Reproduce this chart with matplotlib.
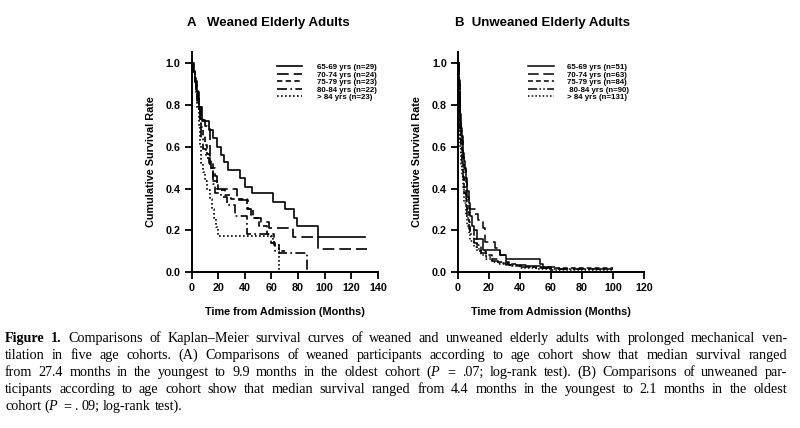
import matplotlib
matplotlib.use("Agg")
import matplotlib.pyplot as plt

plt.rcParams['font.family'] = ['Liberation Sans', 'DejaVu Sans']
plt.rcParams['mathtext.fontset'] = 'custom'
plt.rcParams['mathtext.rm'] = 'Liberation Serif'
plt.rcParams['mathtext.it'] = 'Liberation Serif:italic'

# ---------------- data ----------------
cohorts_A = ["65-69 yrs (n=29)", "70-74 yrs (n=24)", "75-79 yrs (n=23)",
             "80-84 yrs (n=22)", "> 84 yrs (n=23)"]
cohorts_B = ["65-69 yrs (n=51)", "70-74 yrs (n=63)", "75-79 yrs (n=84)",
             " 80-84 yrs (n=90)", "> 84 yrs (n=131)"]

# Panel A: weaned (time in months, survival)
tA1 = [0, 1.5, 2.5, 3.5, 4.5, 5.5, 7.6, 13.1, 16.4, 19.4, 21.9, 24.4, 27.7, 36.4, 40.2, 45.2, 61.4, 70.2, 77.0, 79.0, 95.2, 130]
sA1 = [1.0, 0.966, 0.931, 0.897, 0.862, 0.793, 0.724, 0.681, 0.641, 0.601, 0.561, 0.529, 0.489, 0.449, 0.409, 0.377, 0.337, 0.300, 0.257, 0.220, 0.166, 0.166]
tA2 = [0, 2, 3, 4, 5, 6, 7, 8.5, 10, 14, 15, 17.6, 19.5, 34, 42.5, 45, 52, 58, 76, 95.2, 132]
sA2 = [1.0, 0.958, 0.917, 0.875, 0.833, 0.792, 0.75, 0.73, 0.70, 0.55, 0.50, 0.46, 0.40, 0.345, 0.30, 0.26, 0.24, 0.21, 0.166, 0.11, 0.11]
tA3 = [0, 1.5, 2.5, 3.5, 4.5, 5.5, 6.5, 7.5, 8.5, 10, 11.5, 13, 16, 20, 25, 30, 42, 46, 51, 57, 62, 66, 70]
sA3 = [1.0, 0.957, 0.913, 0.87, 0.826, 0.783, 0.739, 0.696, 0.652, 0.609, 0.565, 0.522, 0.435, 0.391, 0.37, 0.348, 0.30, 0.26, 0.22, 0.18, 0.13, 0.10, 0.10]
tA4 = [0, 1.5, 2.5, 3.5, 4.5, 5.5, 6.5, 7.5, 9, 11, 14, 16, 18, 22, 27, 32.7, 42, 60, 63, 66, 86.5]
sA4 = [1.0, 0.955, 0.909, 0.864, 0.818, 0.773, 0.727, 0.636, 0.59, 0.545, 0.50, 0.42, 0.38, 0.36, 0.32, 0.27, 0.18, 0.14, 0.10, 0.09, 0.0]
tA5 = [0, 1.5, 2.5, 3.5, 4.5, 5.5, 6.5, 7.5, 8.5, 10, 12, 14, 15.5, 17, 18.5, 20, 61, 66]
sA5 = [1.0, 0.957, 0.913, 0.87, 0.783, 0.696, 0.609, 0.522, 0.478, 0.435, 0.391, 0.348, 0.304, 0.261, 0.217, 0.174, 0.13, 0.0]

# Panel B: unweaned
tB1 = [0, 0.5, 1, 1.5, 2, 2.5, 3, 3.5, 4, 4.4, 5, 6, 7, 8, 9, 10, 12, 16, 27, 31, 53, 55, 60]
sB1 = [1.0, 0.92, 0.84, 0.76, 0.69, 0.63, 0.59, 0.55, 0.53, 0.49, 0.45, 0.39, 0.33, 0.27, 0.22, 0.20, 0.16, 0.105, 0.08, 0.06, 0.04, 0.02, 0.0]
tB2 = [0, 0.5, 1, 1.5, 2, 3, 4, 5, 6, 7, 11, 13, 16.3, 17.5, 23.8, 27, 31, 33, 45, 55, 65, 100]
sB2 = [1.0, 0.90, 0.80, 0.72, 0.65, 0.57, 0.50, 0.43, 0.36, 0.30, 0.28, 0.25, 0.21, 0.145, 0.113, 0.08, 0.05, 0.035, 0.03, 0.022, 0.016, 0.016]
tB3 = [0, 0.5, 1, 1.5, 2, 2.5, 3, 4, 5, 6, 7, 8, 10, 12, 15, 18, 22, 26, 30, 38, 48, 60, 100]
sB3 = [1.0, 0.88, 0.77, 0.67, 0.60, 0.54, 0.48, 0.41, 0.35, 0.29, 0.24, 0.20, 0.16, 0.13, 0.10, 0.08, 0.06, 0.05, 0.04, 0.03, 0.022, 0.02, 0.02]
tB4 = [0, 0.5, 1, 1.5, 2, 2.5, 3, 4, 5, 6, 7, 8, 10, 12, 15, 18, 22, 26, 32, 40, 50, 60, 95]
sB4 = [1.0, 0.87, 0.75, 0.64, 0.56, 0.50, 0.45, 0.38, 0.32, 0.26, 0.21, 0.18, 0.14, 0.11, 0.09, 0.07, 0.055, 0.045, 0.035, 0.025, 0.018, 0.012, 0.012]
tB5 = [0, 0.5, 1, 1.5, 2, 2.5, 3, 4, 5, 6, 7, 8, 10, 12, 15, 18, 22, 26, 30, 35, 40, 50, 60, 100]
sB5 = [1.0, 0.85, 0.72, 0.60, 0.52, 0.46, 0.40, 0.33, 0.27, 0.22, 0.18, 0.15, 0.12, 0.10, 0.08, 0.06, 0.05, 0.04, 0.035, 0.03, 0.02, 0.012, 0.008, 0.008]

xticks_A = [0, 20, 40, 60, 80, 100, 120, 140]
xticks_B = [0, 20, 40, 60, 80, 100, 120]
yticks = [0.0, 0.2, 0.4, 0.6, 0.8, 1.0]

caption_lines = [
    "Figure 1. Comparisons of Kaplan–Meier survival curves of weaned and unweaned elderly adults with prolonged mechanical ven-",
    "tilation in five age cohorts. (A) Comparisons of weaned participants according to age cohort show that median survival ranged",
    "from 27.4 months in the youngest to 9.9 months in the oldest cohort ($P$ = .07; log-rank test). (B) Comparisons of unweaned par-",
    "ticipants according to age cohort show that median survival ranged from 4.4 months in the youngest to 2.1 months in the oldest",
    "cohort ($P$ = . 09; log-rank test).",
]

# ---------------- styles ----------------
styles_A = ['-', (0, (7, 3)), (0, (3.2, 2)), (0, (6, 2, 1, 2)), (0, (1, 1.4))]
styles_B = ['-', (0, (7, 3)), (0, (3.2, 2)), (0, (6, 1.5, 1, 1.5, 1, 1.5)), (0, (1, 1.4))]

W, H = 800, 428
fig = plt.figure(figsize=(8, 4.28), dpi=100)
fig.patch.set_facecolor('white')

def px_axes(x0, x1, ybot, ytop):
    return [x0 / W, 1 - ybot / H, (x1 - x0) / W, (ybot - ytop) / H]

axA = fig.add_axes(px_axes(191.5, 378, 272, 52))
axB = fig.add_axes(px_axes(458, 644, 272, 52))

def style_axis(ax, xmax, xticks):
    ax.set_xlim(0, xmax)
    ax.set_ylim(0, 1.055)
    for s in ['top', 'right']:
        ax.spines[s].set_visible(False)
    for s in ['left', 'bottom']:
        ax.spines[s].set_linewidth(1.4)
        ax.spines[s].set_color('black')
    ax.set_xticks(xticks)
    ax.set_yticks(yticks)
    ax.set_yticklabels([f"{v:.1f}" for v in yticks])
    ax.tick_params(direction='out', length=5, width=1.3, labelsize=7.7, pad=3)
    for lab in ax.get_xticklabels() + ax.get_yticklabels():
        lab.set_fontweight('bold')
    ax.set_xlabel("Time from Admission (Months)", fontsize=7.8, fontweight='bold', labelpad=10)
    ax.set_ylabel("Cumulative Survival Rate", fontsize=7.8, fontweight='bold', labelpad=7)
    ax.patch.set_alpha(0)

dataA = [(tA1, sA1), (tA2, sA2), (tA3, sA3), (tA4, sA4), (tA5, sA5)]
dataB = [(tB1, sB1), (tB2, sB2), (tB3, sB3), (tB4, sB4), (tB5, sB5)]

for (t, s), ls, lab in zip(dataA, styles_A, cohorts_A):
    axA.step(t, s, where='post', color='black', lw=1.2, linestyle=ls, label=lab)
for (t, s), ls, lab in zip(dataB, styles_B, cohorts_B):
    axB.step(t, s, where='post', color='black', lw=1.1, linestyle=ls, label=lab)

style_axis(axA, 140, xticks_A)
style_axis(axB, 120, xticks_B)

for ax, anchor, hl, htp in ((axA, (0.44, 0.962), 3.25, 1.9), (axB, (0.357, 0.962), 3.35, 1.65)):
    ax.legend(loc='upper left', bbox_to_anchor=anchor, frameon=False,
              handlelength=hl, handletextpad=htp,
              labelspacing=0.0, borderaxespad=0.0,
              prop={'weight': 'bold', 'size': 5.7})

fig.text(187 / W, 1 - 23 / H, "A   Weaned Elderly Adults", fontsize=9.5,
         fontweight='bold', ha='left', va='center')
fig.text(455 / W, 1 - 23 / H, "B  Unweaned Elderly Adults", fontsize=9.5,
         fontweight='bold', ha='left', va='center')

# ---------------- justified caption ----------------
renderer = fig.canvas.get_renderer()
x_left, x_right = 5.0, 787.0
baselines = [342, 359, 376, 393, 410]
cap_size = 10.2
serif = ['Liberation Serif', 'DejaVu Serif']

def measure(txt, weight):
    t = fig.text(0, 0, txt, fontsize=cap_size, family=serif, fontweight=weight)
    w = t.get_window_extent(renderer).width
    t.remove()
    return w

space_w = measure("a a", 'normal') - measure("aa", 'normal')

for i, (line, yb) in enumerate(zip(caption_lines, baselines)):
    words = line.split(' ')
    weights = ['bold' if (i == 0 and j < 2) else 'normal' for j in range(len(words))]
    widths = [measure(w, wt) for w, wt in zip(words, weights)]
    last = (i == len(caption_lines) - 1)
    if last:
        gap = space_w
    else:
        gap = (x_right - x_left - sum(widths)) / (len(words) - 1)
    x = x_left
    for w, wt, wd in zip(words, weights, widths):
        fig.text(x / W, 1 - yb / H, w, fontsize=cap_size, family=serif,
                 fontweight=wt, ha='left', va='baseline')
        x += wd + gap

fig.savefig("out.png", dpi=100, facecolor='white')
